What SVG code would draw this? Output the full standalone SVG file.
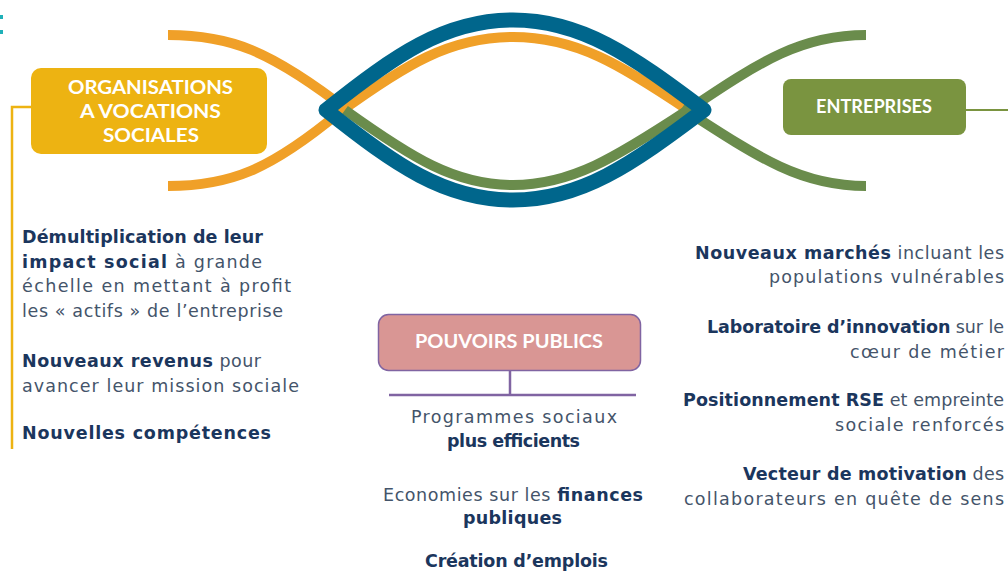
<svg xmlns="http://www.w3.org/2000/svg" width="1008" height="571" viewBox="0 0 1008 571">
<style>
.t{font-family:"DejaVu Sans","Liberation Sans",sans-serif;font-size:17.5px;fill:#44546A}
.b{font-weight:bold;fill:#1B365D}
.bx{font-family:Lato,"Liberation Sans",sans-serif;font-weight:bold;font-size:18px;fill:#FFFFFF}
.or{fill:none;stroke:#F0A028;stroke-width:10}
.gr{fill:none;stroke:#6A8C4C;stroke-width:10}
.bl{fill:none;stroke:#00668C;stroke-width:15;stroke-linejoin:round}
</style>
<rect width="1008" height="571" fill="#FFFFFF"/>
<g id="dots" fill="#1FB0B8">
<rect x="0" y="15" width="3" height="4"/>
<rect x="0" y="30" width="3" height="4"/>
</g>
<g id="connectors">
<path class="or" d="M168,35 C230,35 270,50 350,112"/>
<path class="or" d="M168,186 C230,186 270,170 340,112 C405,65 450,37 513,37 C576,37 621,65 688,110"/>
<path class="gr" d="M345,110 C412,158 455,185 513,185 C571,185 615,158 688,110 C762,60 802,35 866,35"/>
<path class="gr" d="M682,108 C762,160 802,186 866,186"/>
<path class="bl" d="M326,110 C395,55 445,20 513,20 C581,20 631,55 704,110 C631,165 581,200 513,200 C445,200 395,165 326,110 Z"/>
<polyline points="31,107 12,107 12,449" fill="none" stroke="#EDB312" stroke-width="2.5"/>
<line x1="966" y1="110" x2="1008" y2="110" stroke="#7A9440" stroke-width="2"/>
<polyline points="510,371 510,395" fill="none" stroke="#8064A2" stroke-width="2.5"/>
<line x1="389" y1="395" x2="636" y2="395" stroke="#8064A2" stroke-width="2.5"/>
</g>
<g id="node-osv">
<rect x="31" y="68" width="236" height="86" rx="10" fill="#EDB312"/>
<text class="bx" x="68" y="94" textLength="165" lengthAdjust="spacingAndGlyphs">ORGANISATIONS</text>
<text class="bx" x="80" y="118" textLength="141" lengthAdjust="spacingAndGlyphs">A VOCATIONS</text>
<text class="bx" x="103" y="142" textLength="96" lengthAdjust="spacingAndGlyphs">SOCIALES</text>
</g>
<g id="node-entreprises">
<rect x="783" y="79" width="183" height="56" rx="8" fill="#7A9440"/>
<text class="bx" x="816" y="113" textLength="116" lengthAdjust="spacingAndGlyphs">ENTREPRISES</text>
</g>
<g id="node-pouvoirs">
<rect x="378.5" y="314.5" width="262" height="56" rx="10" fill="#D99694" stroke="#8064A2" stroke-width="1.5"/>
<text class="bx" x="415" y="348" textLength="188" lengthAdjust="spacingAndGlyphs">POUVOIRS PUBLICS</text>
</g>
<g id="text-osv">
<text class="t" x="22" y="243" textLength="241"><tspan class="b">Démultiplication de leur</tspan></text>
<text class="t" x="22" y="268" textLength="240"><tspan class="b">impact social</tspan>  à grande</text>
<text class="t" x="22" y="292" textLength="269">échelle en mettant à profit</text>
<text class="t" x="22" y="317" textLength="261">les « actifs » de l’entreprise</text>
<text class="t" x="22" y="367" textLength="239"><tspan class="b">Nouveaux revenus</tspan> pour</text>
<text class="t" x="22" y="392" textLength="277">avancer leur mission sociale</text>
<text class="t" x="22" y="439" textLength="249"><tspan class="b">Nouvelles compétences</tspan></text>
</g>
<g id="text-pouvoirs">
<text class="t" x="411" y="423" textLength="206">Programmes sociaux</text>
<text class="t" x="447" y="447" textLength="133"><tspan class="b">plus efficients</tspan></text>
<text class="t" x="383" y="501" textLength="260">Economies sur les <tspan class="b">finances</tspan></text>
<text class="t" x="463" y="524" textLength="99"><tspan class="b">publiques</tspan></text>
<text class="t" x="425" y="567" textLength="183"><tspan class="b">Création d’emplois</tspan></text>
</g>
<g id="text-entreprises">
<text class="t" x="695" y="259" textLength="309"><tspan class="b">Nouveaux marchés</tspan> incluant les</text>
<text class="t" x="769" y="283" textLength="235">populations vulnérables</text>
<text class="t" x="707" y="333" textLength="297"><tspan class="b">Laboratoire d’innovation</tspan> sur le</text>
<text class="t" x="850" y="358" textLength="154">cœur de métier</text>
<text class="t" x="683" y="406" textLength="321"><tspan class="b">Positionnement RSE</tspan> et empreinte</text>
<text class="t" x="835" y="431" textLength="169">sociale renforcés</text>
<text class="t" x="743" y="480" textLength="261"><tspan class="b">Vecteur de motivation</tspan> des</text>
<text class="t" x="684" y="505" textLength="320">collaborateurs en quête de sens</text>
</g>
</svg>
